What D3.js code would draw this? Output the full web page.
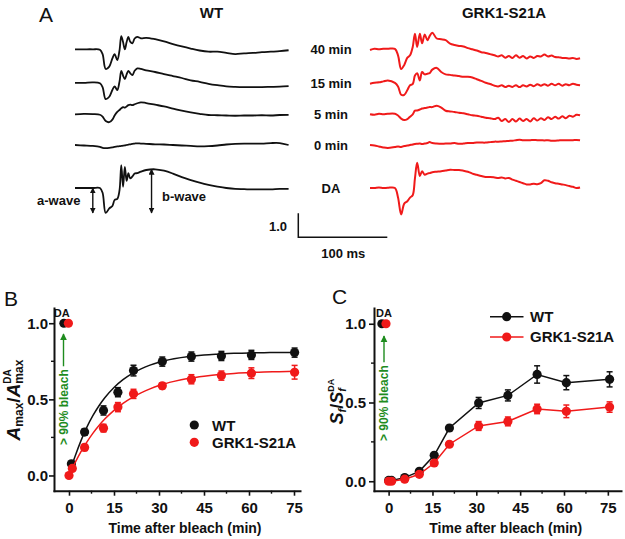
<!DOCTYPE html>
<html><head><meta charset="utf-8">
<script src="https://cdn.jsdelivr.net/npm/d3@7"></script>
<style>
body{margin:0;background:#fff}
svg{display:block;background:#fff}
text{font-family:"Liberation Sans",Arial,sans-serif;font-weight:bold;fill:#111}
</style>
</head><body>
<svg id="c" width="625" height="539"></svg>
<script>
// ---------------- DATA ----------------
// Panel A: ERG traces (time in ms, amplitude in scale-bar units)
const traceLabels = ["40 min","15 min","5 min","0 min","DA"];
const tWT = [0,10,20,28,31,34.5,38.5,42,44.5,47.5,50,52,54,56,58,60,62,64.5,67,70,74,80,90,100,110,120,130,140,150,160,170,180,190,200,210,220,230,240];
const wt40 = [0,0,0,-0.02,-0.2,-0.82,-0.72,-0.38,-0.2,-0.45,-0.05,0.55,0.3,0.0,0.3,0.52,0.32,0.25,0.45,0.52,0.46,0.48,0.42,0.33,0.22,0.12,0.03,-0.05,-0.1,-0.1,-0.15,-0.2,-0.17,-0.15,-0.12,-0.1,-0.08,-0.04];
const wt15 = [0,0,0.02,-0.02,-0.18,-0.68,-0.58,-0.3,-0.15,-0.3,0.05,0.5,0.3,0.15,0.35,0.5,0.4,0.32,0.5,0.6,0.58,0.52,0.45,0.36,0.28,0.2,0.1,0.04,-0.04,-0.1,-0.15,-0.17,-0.18,-0.18,-0.18,-0.17,-0.16,-0.14];
const wt5  = [0,0.02,0.01,-0.02,-0.1,-0.28,-0.33,-0.22,-0.05,0.1,0.18,0.25,0.3,0.28,0.33,0.38,0.4,0.38,0.42,0.46,0.5,0.47,0.4,0.33,0.24,0.15,0.08,0.02,-0.03,-0.04,-0.05,-0.06,-0.05,-0.05,-0.04,-0.05,-0.03,-0.02];
const wt0  = [0,-0.02,-0.04,-0.08,-0.12,-0.13,-0.12,-0.1,-0.08,-0.06,-0.05,-0.04,-0.03,-0.02,0,0.02,0.03,0.05,0.06,0.07,0.06,0.05,0.03,0.02,0,-0.02,-0.04,-0.06,-0.05,-0.02,0.02,0.05,0.06,0.06,0.06,0.08,0.08,0];
const wtDA = [0,0,0,0,-0.2,-1.04,-0.85,-0.75,-0.5,-0.45,-0.1,0.95,0.05,0.88,0.3,0.62,0.4,0.48,0.6,0.62,0.68,0.75,0.78,0.72,0.6,0.45,0.33,0.22,0.13,0.06,0,-0.04,-0.05,-0.06,-0.06,-0.06,-0.04,-0.04];

const tRed = [0,5,10,15,20,28,31.5,35,38.5,42,45,48,50.5,53,56,58.5,61.5,64.5,67,70,75,80,85,90,95,100,105,110,115,120,125,130,135,140,144,148,152,156,160,164,168,172,176,180,184,188,192,196,200,204,208,212,216,220,224,228,232,236];
const red40 = [-0.03,0.02,0,0.02,0.02, 0.02,-0.25,-0.82,-0.65,-0.35, -0.25,0.1,0.65,0.1,0.65, 0.25,0.62,0.38,0.55,0.69, 0.45,0.42,0.38,0.24,0.18, 0.14,0.12,0.05,0,-0.05, -0.12,-0.15,-0.2,-0.25,-0.3, -0.25,-0.35,-0.28,-0.36,-0.25, -0.35,-0.28,-0.38,-0.3,-0.36, -0.28,-0.3,-0.22,-0.3,-0.26, -0.32,-0.33,-0.36,-0.36,-0.38, -0.36,-0.4,-0.37];
const red15 = [-0.04,0,0.02,0.06,0.1, 0,-0.15,-0.5,-0.5,-0.3, -0.1,-0.05,0.3,0.4,0.1, 0.45,0.35,0.38,0.4,0.55, 0.62,0.45,0.35,0.33,0.3, 0.28,0.25,0.25,0.22,0.15, 0.08,0,-0.05,-0.12,-0.15, -0.1,-0.18,-0.12,-0.17,-0.1, -0.18,-0.1,-0.15,-0.08,-0.14, -0.06,-0.12,-0.06,-0.12,-0.04, -0.1,-0.04,-0.12,-0.06,-0.1, -0.04,-0.08,-0.1];
const red5 = [0,-0.02,0.02,0,0.02, 0.02,-0.05,-0.18,-0.24,-0.2, -0.1,0,0.15,0.16,0.2, 0.24,0.26,0.28,0.3,0.3, 0.36,0.28,0.15,0.12,0.1, 0.06,0.04,0,-0.04,-0.06, -0.1,-0.14,-0.16,-0.2,-0.14, -0.28,-0.2,-0.32,-0.2,-0.3, -0.18,-0.28,-0.2,-0.3,-0.16, -0.26,-0.16,-0.24,-0.12,-0.2, -0.1,-0.18,-0.08,-0.16,-0.06, -0.1,-0.02,-0.04];
const red0 = [0,-0.02,-0.06,-0.1,-0.12, -0.08,-0.06,-0.08,-0.04,-0.02, 0,0.02,0.04,0.05,0.06, 0.04,0.06,0.08,0.12,0.08, 0.06,0.05,0.06,0.06,0.08, 0.05,0.06,0.08,0.08,0.1, 0.1,0.1,0.12,0.14,0.14, 0.15,0.16,0.17,0.18,0.2, 0.22,0.2,0.2,0.2,0.21, 0.2,0.2,0.19,0.2,0.18, 0.18,0.19,0.2,0.2,0.2, 0.2,0.21,0.2];
const redDA = [0,0,0.02,0,0.01, 0,-0.4,-1.1,-0.65,-0.55, -0.4,-0.3,0.4,1.05,0.5, 0.7,0.55,0.6,0.62,0.66, 0.68,0.7,0.73,0.76,0.75, 0.75,0.72,0.68,0.6,0.55, 0.5,0.46,0.46,0.44,0.42, 0.44,0.4,0.42,0.35,0.3, 0.25,0.2,0.15,0.15,0.18, 0.16,0.2,0.32,0.3,0.24, 0.2,0.18,0.15,0.12,0.08, 0.05,0,0.02];

// Panel B: Amax / Amax(DA)
const bWT_t = [0.8,5.2,11.5,16.3,21.5,31.1,40.8,50.8,60.8,75.2];
const bWT_v = [0.077,0.285,0.427,0.547,0.689,0.748,0.781,0.785,0.792,0.807];
const bWT_e = [0.015,0.02,0.03,0.03,0.035,0.03,0.03,0.03,0.03,0.03];
const bRed_t = [0,1.1,5.2,11.5,16.3,21.5,31.1,40.8,50.8,60.8,75.2];
const bRed_v = [0,0.046,0.184,0.311,0.449,0.536,0.589,0.632,0.656,0.672,0.678];
const bRed_e = [0.01,0.015,0.02,0.025,0.03,0.03,0.02,0.03,0.03,0.035,0.045];
const bDA_t = [-1.7,-0.2];   // WT, GRK1-S21A dark-adapted points (value 1.0)
const fitT = [0.5,2,4,6,8,10,12,15,18,21,24,27,30,35,40,45,50,55,60,65,70,75.5];
const fitWT = [0.04,0.125,0.229,0.319,0.394,0.458,0.512,0.578,0.629,0.669,0.700,0.725,0.744,0.766,0.781,0.791,0.797,0.802,0.805,0.806,0.808,0.808];
const fitRedT = [0,2,4,6,8,10,12,15,18,21,24,27,30,35,40,45,50,55,60,65,70,75.5];
const fitRed = [0,0.083,0.157,0.221,0.278,0.328,0.372,0.428,0.474,0.512,0.543,0.569,0.591,0.618,0.638,0.652,0.663,0.670,0.676,0.680,0.682,0.685];

// Panel C: Sf / Sf(DA)
const cT = [0,1,5.5,10.5,15.6,20.8,30.8,40.8,50.8,60.8,75.6];
const cWT_v = [0.005,0.005,0.023,0.063,0.165,0.338,0.497,0.545,0.678,0.626,0.647];
const cWT_e = [0.005,0.005,0.008,0.01,0.012,0.015,0.035,0.035,0.055,0.045,0.048];
const cRed_v = [0,0,0.013,0.044,0.116,0.235,0.351,0.380,0.459,0.444,0.471];
const cRed_e = [0.005,0.005,0.008,0.01,0.012,0.012,0.028,0.028,0.03,0.04,0.033];
const cDA_t = [-2.3,-0.9];

const xMajor = [0,15,30,45,60,75];
const xMinor = [7.5,22.5,37.5,52.5,67.5];
const yMajor = [0,0.5,1.0];
const yMinor = [0.25,0.75];
const legendNames = ["WT","GRK1-S21A"];

// ---------------- DRAW ----------------
const BLACK = "#111", RED = "#f01a1a", GREEN = "#1e8c1e";
const svg = d3.select("#c");
const defs = svg.append("defs");
defs.append("marker").attr("id","ag").attr("viewBox","0 0 10 10").attr("refX",9).attr("refY",5)
  .attr("markerUnits","userSpaceOnUse").attr("markerWidth",7).attr("markerHeight",8).attr("orient","auto")
  .append("path").attr("d","M0,0L10,5L0,10z").attr("fill",GREEN);
defs.append("marker").attr("id","ab").attr("viewBox","0 0 10 10").attr("refX",9).attr("refY",5)
  .attr("markerUnits","userSpaceOnUse").attr("markerWidth",6).attr("markerHeight",6).attr("orient","auto-start-reverse")
  .append("path").attr("d","M0,0L10,5L0,10z").attr("fill",BLACK);

function txt(x,y,s,opt={}){
  const t = svg.append("text").attr("x",x).attr("y",y).text(s)
    .attr("font-size",opt.size||13).attr("text-anchor",opt.anchor||"start");
  if(opt.weight) t.style("font-weight",opt.weight);
  if(opt.fill) t.style("fill",opt.fill);
  return t;
}

// ---- Panel A ----
const xA = d3.scaleLinear().domain([0,100]).range([0,89]);
const yA = d3.scaleLinear().domain([0,1]).range([0,-24]);
const rowY = [49.3,82.8,114.3,145,188];
const wtTraces = [wt40,wt15,wt5,wt0,wtDA];
const redTraces = [red40,red15,red5,red0,redDA];
function traceLine(ts){
  return d3.line().x((d,i)=>xA(ts[i])).y(d=>yA(d)).curve(d3.curveCatmullRom.alpha(0.5));
}
wtTraces.forEach((vals,i)=>{
  svg.append("path").attr("transform",`translate(75,${rowY[i]})`).attr("d",traceLine(tWT)(vals))
    .attr("fill","none").attr("stroke",BLACK).attr("stroke-width",1.8).attr("stroke-linejoin","round");
});
redTraces.forEach((vals,i)=>{
  svg.append("path").attr("transform",`translate(370,${rowY[i]})`).attr("d",traceLine(tRed)(vals))
    .attr("fill","none").attr("stroke",RED).attr("stroke-width",2).attr("stroke-linejoin","round");
});
traceLabels.forEach((s,i)=> txt(331,rowY[i]+5,s,{size:13,anchor:"middle"}));
txt(39,22,"A",{size:21,weight:"normal"});
txt(211.5,17.5,"WT",{size:15,anchor:"middle"});
txt(504,18.3,"GRK1-S21A",{size:15,anchor:"middle"});

// a-wave / b-wave arrows on WT DA trace
const daMin = d3.min(wtDA), bPeak = wtDA[tWT.indexOf(90)];
const aX = 75 + xA(20), bX = 75 + xA(86);
svg.append("line").attr("x1",aX).attr("x2",aX).attr("y1",rowY[4]+yA(0)).attr("y2",rowY[4]+yA(daMin))
  .attr("stroke",BLACK).attr("stroke-width",1.4).attr("marker-start","url(#ab)").attr("marker-end","url(#ab)");
svg.append("line").attr("x1",bX).attr("x2",bX).attr("y1",rowY[4]+yA(bPeak)).attr("y2",rowY[4]+yA(daMin))
  .attr("stroke",BLACK).attr("stroke-width",1.4).attr("marker-start","url(#ab)").attr("marker-end","url(#ab)");
txt(37,205,"a-wave",{size:13});
txt(162,201,"b-wave",{size:13});

// scale bar
const sbX = 298.3, sbY = 237.3;
svg.append("path").attr("d",`M${sbX},${sbY+yA(1)}V${sbY}H${sbX+xA(100)}`)
  .attr("fill","none").attr("stroke",BLACK).attr("stroke-width",1.5);
txt(287,230.7,"1.0",{size:13,anchor:"end"});
txt(343.3,258.3,"100 ms",{size:13,anchor:"middle"});

// ---- Axes helper ----
function drawAxes(x,y,yPad){
  const x0 = x.range()[0], yb = y.range()[0];
  const gx = svg.append("g").attr("transform",`translate(0,${yb})`)
    .call(d3.axisBottom(x).tickValues(xMajor).tickSize(5).tickSizeOuter(0).tickPadding(7).tickFormat(d3.format("d")));
  const gy = svg.append("g").attr("transform",`translate(${x0},0)`)
    .call(d3.axisLeft(y).tickValues(yMajor).tickSize(5).tickSizeOuter(0).tickPadding(yPad).tickFormat(d3.format(".1f")));
  [gx,gy].forEach(g=>{
    g.select(".domain").attr("stroke",BLACK).attr("stroke-width",2).attr("stroke-linecap","square");
    g.selectAll(".tick line").attr("stroke",BLACK).attr("stroke-width",1.6);
    g.selectAll(".tick text").attr("font-size",15).style("fill",BLACK);
  });
  xMinor.forEach(v=> svg.append("line").attr("x1",x(v)).attr("x2",x(v)).attr("y1",yb).attr("y2",yb+3)
    .attr("stroke",BLACK).attr("stroke-width",1.4));
  yMinor.forEach(v=> svg.append("line").attr("x1",x0).attr("x2",x0-3).attr("y1",y(v)).attr("y2",y(v))
    .attr("stroke",BLACK).attr("stroke-width",1.4));
}
function errDots(x,y,ts,vs,es,color){
  const g = svg.append("g");
  ts.forEach((t,i)=>{
    const cx = x(t), y1 = y(vs[i]-es[i]), y2 = y(vs[i]+es[i]);
    g.append("line").attr("x1",cx).attr("x2",cx).attr("y1",y1).attr("y2",y2).attr("stroke",color).attr("stroke-width",1.5);
    g.append("line").attr("x1",cx-3).attr("x2",cx+3).attr("y1",y1).attr("y2",y1).attr("stroke",color).attr("stroke-width",1.5);
    g.append("line").attr("x1",cx-3).attr("x2",cx+3).attr("y1",y2).attr("y2",y2).attr("stroke",color).attr("stroke-width",1.5);
  });
  return g;
}
function dots(x,y,ts,vs,color){
  svg.append("g").selectAll("circle").data(ts).join("circle")
    .attr("cx",d=>x(d)).attr("cy",(d,i)=>y(vs[i])).attr("r",4.6).attr("fill",color);
}
function richLabel(bx,cy,parts){
  const g = svg.append("g").attr("transform",`translate(${bx},${cy}) rotate(-90)`);
  const inner = g.append("g");
  let cursor = 0, lastStart = 0, lastW = 0;
  parts.forEach(p=>{
    const x = p.stack ? lastStart : cursor;
    const t = inner.append("text").attr("x",x).attr("y",p.dy||0).attr("font-size",p.size).text(p.t);
    if(p.italic) t.style("font-style","italic");
    const w = t.node().getComputedTextLength();
    if(p.stack){ cursor = lastStart + Math.max(lastW,w); }
    else { lastStart = cursor; lastW = w; cursor += w; }
  });
  inner.attr("transform",`translate(${-cursor/2},0)`);
}
function greenNote(x,yStart,arrowTop,arrowX){
  const t = svg.append("text").attr("transform",`translate(${x},${yStart}) rotate(-90)`)
    .attr("font-size",12).style("fill",GREEN).text("> 90% bleach");
  const len = t.node().getComputedTextLength();
  svg.append("line").attr("x1",arrowX).attr("x2",arrowX).attr("y1",yStart-len-3).attr("y2",arrowTop)
    .attr("stroke",GREEN).attr("stroke-width",1.4).attr("marker-end","url(#ag)");
}

// ---- Panel B ----
const xB = d3.scaleLinear().domain([-5,77]).range([54,300]);
const yB = d3.scaleLinear().domain([-0.1,1.1]).range([490.7,308]);
drawAxes(xB,yB,1);
txt(4,306,"B",{size:21,weight:"normal"});
const fitLine = (ts,x,y)=> d3.line().x((d,i)=>x(ts[i])).y(d=>y(d)).curve(d3.curveMonotoneX);
errDots(xB,yB,bWT_t,bWT_v,bWT_e,BLACK);
svg.append("path").attr("d",fitLine(fitT,xB,yB)(fitWT)).attr("fill","none").attr("stroke",BLACK).attr("stroke-width",1.5);
dots(xB,yB,bWT_t,bWT_v,BLACK);
errDots(xB,yB,bRed_t,bRed_v,bRed_e,RED);
svg.append("path").attr("d",fitLine(fitRedT,xB,yB)(fitRed)).attr("fill","none").attr("stroke",RED).attr("stroke-width",1.5);
dots(xB,yB,bRed_t,bRed_v,RED);
dots(xB,yB,[bDA_t[0]],[1.0],BLACK);
dots(xB,yB,[bDA_t[1]],[1.0],RED);
txt(61.7,317,"DA",{size:11,anchor:"middle"});
greenNote(67.5,445,334,63.5);
richLabel(20,400,[
  {t:"A",size:19,italic:true},{t:"max",size:12,dy:3},{t:"/",size:19},
  {t:"A",size:19,italic:true},{t:"max",size:12,dy:3},{t:"DA",size:10,dy:-9,stack:true}]);
txt(185,533,"Time after bleach (min)",{size:14,anchor:"middle"});
// legend B
svg.append("circle").attr("cx",194.3).attr("cy",425).attr("r",4.6).attr("fill",BLACK);
svg.append("circle").attr("cx",194.3).attr("cy",442.3).attr("r",4.6).attr("fill",RED);
txt(212,430.7,legendNames[0],{size:15});
txt(212,448.3,legendNames[1],{size:15});

// ---- Panel C ----
const xC = d3.scaleLinear().domain([-5,79.5]).range([374,621]);
const yC = d3.scaleLinear().domain([-0.06,1.1]).range([490.7,308]);
drawAxes(xC,yC,3);
txt(332,304,"C",{size:21,weight:"normal"});
const polyC = (x,y)=> d3.line().x((d,i)=>x(cT[i])).y(d=>y(d));
errDots(xC,yC,cT,cWT_v,cWT_e,BLACK);
svg.append("path").attr("d",polyC(xC,yC)(cWT_v)).attr("fill","none").attr("stroke",BLACK).attr("stroke-width",1.5);
dots(xC,yC,cT,cWT_v,BLACK);
errDots(xC,yC,cT,cRed_v,cRed_e,RED);
svg.append("path").attr("d",polyC(xC,yC)(cRed_v)).attr("fill","none").attr("stroke",RED).attr("stroke-width",1.5);
dots(xC,yC,cT,cRed_v,RED);
dots(xC,yC,[cDA_t[0]],[1.0],BLACK);
dots(xC,yC,[cDA_t[1]],[1.0],RED);
txt(384,316.5,"DA",{size:11,anchor:"middle"});
greenNote(388,441,336,384);
richLabel(343,401.7,[
  {t:"S",size:18,italic:true},{t:"f",size:11,italic:true,dy:3},{t:"/",size:18},
  {t:"S",size:18,italic:true},{t:"f",size:11,italic:true,dy:3},{t:"DA",size:9,dy:-9,stack:true}]);
txt(505.8,533,"Time after bleach (min)",{size:14,anchor:"middle"});
// legend C
[[316.7,BLACK,legendNames[0],322],[337,RED,legendNames[1],342.3]].forEach(([yy,col,name,bl])=>{
  svg.append("line").attr("x1",490).attr("x2",523.5).attr("y1",yy).attr("y2",yy).attr("stroke",col).attr("stroke-width",1.5);
  svg.append("circle").attr("cx",506.7).attr("cy",yy).attr("r",4.6).attr("fill",col);
  txt(530,bl,name,{size:15});
});
</script>
</body></html>
